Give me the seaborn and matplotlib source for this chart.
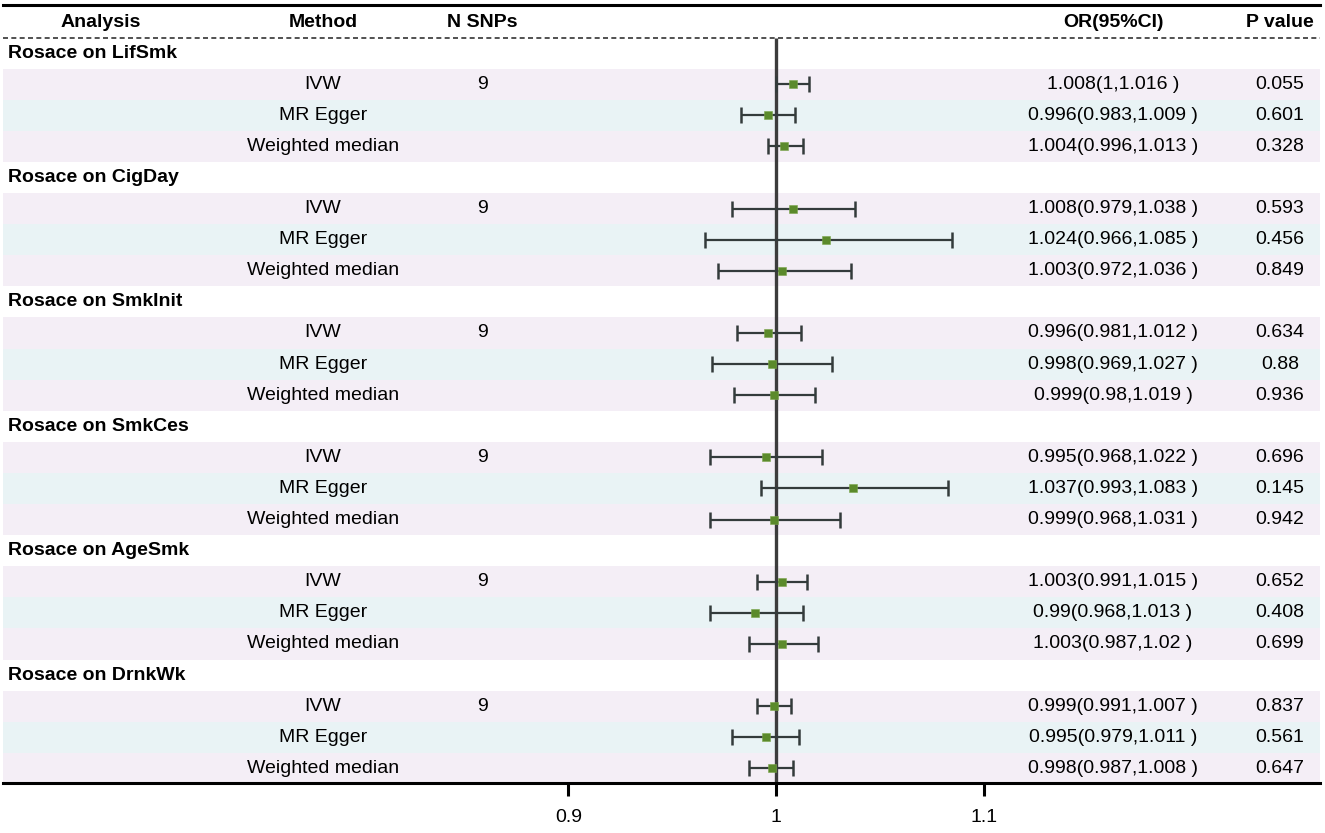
import numpy as np
import pandas as pd
import seaborn as sns
import matplotlib.pyplot as plt
from matplotlib.transforms import blended_transform_factory

sns.set_style("white")
plt.rcParams['font.family'] = ['Liberation Sans', 'DejaVu Sans']
plt.rcParams['font.size'] = 14
plt.rcParams['text.color'] = 'black'
plt.rcParams['xtick.color'] = 'black'

# data
outcomes = ["LifSmk", "CigDay", "SmkInit", "SmkCes", "AgeSmk", "DrnkWk"]
methods = ["IVW", "MR Egger", "Weighted median"]
n_snps = [9, 9, 9, 9, 9, 9]
or_val = [1.008, 0.996, 1.004,
          1.008, 1.024, 1.003,
          0.996, 0.998, 0.999,
          0.995, 1.037, 0.999,
          1.003, 0.99, 1.003,
          0.999, 0.995, 0.998]
ci_low = [1.0, 0.983, 0.996,
          0.979, 0.966, 0.972,
          0.981, 0.969, 0.98,
          0.968, 0.993, 0.968,
          0.991, 0.968, 0.987,
          0.991, 0.979, 0.987]
ci_high = [1.016, 1.009, 1.013,
           1.038, 1.085, 1.036,
           1.012, 1.027, 1.019,
           1.022, 1.083, 1.031,
           1.015, 1.013, 1.02,
           1.007, 1.011, 1.008]
p_val = [0.055, 0.601, 0.328,
         0.593, 0.456, 0.849,
         0.634, 0.88, 0.936,
         0.696, 0.145, 0.942,
         0.652, 0.408, 0.699,
         0.837, 0.561, 0.647]

# table layout: row 0 = header, each outcome = 1 title row + 3 method rows
rows = []
for g, out in enumerate(outcomes):
    for m, meth in enumerate(methods):
        rows.append(dict(outcome=out, method=meth, row=2 + 4 * g + m))
df = pd.DataFrame(rows)
df["OR"] = or_val
df["lo"] = ci_low
df["hi"] = ci_high
df["p"] = p_val

W, H = 1325, 833
fig = plt.figure(figsize=(W / 100, H / 100), dpi=100)
ax = fig.add_axes([3 / W, 50 / H, 1317 / W, 778 / H])

n_rows = 4 * len(outcomes) + 1
y_bottom = n_rows - 1 + 0.47
y_top = -0.547
ax.set_xlim(1 - 773 / 2076, 1 + 544 / 2076)
ax.set_ylim(y_bottom, y_top)

pink = "#F4EEF6"
blue = "#E9F3F5"
band_col = {"IVW": pink, "MR Egger": blue, "Weighted median": pink}
for _, r in df.iterrows():
    ax.axhspan(r["row"] - 0.5, r["row"] + 0.5, color=band_col[r["method"]], lw=0, zorder=0)

# dashed line under header, reference line at OR = 1
ax.axhline(0.5, color="#333333", lw=1.2, ls=(0, (3, 2)), zorder=1)
ax.vlines(1, 0.5, y_bottom, color="#3C3C3C", lw=2.4, zorder=2)

ax.errorbar(df["OR"], df["row"], xerr=[df["OR"] - df["lo"], df["hi"] - df["OR"]],
            fmt="none", ecolor="#333B3B", elinewidth=1.6, capsize=5.5, capthick=1.8, zorder=3)
sns.scatterplot(data=df, x="OR", y="row", marker="s", s=32, color="#5B8A2B",
                edgecolor="#7BA54A", linewidth=0.4, zorder=4, legend=False, ax=ax)

# text columns (x in figure fraction, y in rows)
tr = blended_transform_factory(fig.transFigure, ax.transData)
col_x = {"analysis": 101, "method": 323, "nsnp": 482, "or": 1113, "p": 1280}
hdr = dict(fontweight="bold", fontsize=14, va="center", ha="center", transform=tr)
ax.text(col_x["analysis"] / W, 0, "Analysis", **hdr)
ax.text(col_x["method"] / W, 0, "Method", **hdr)
ax.text(col_x["nsnp"] / W, 0, "N SNPs", **hdr)
ax.text(col_x["or"] / W, 0, "OR(95%CI)", **hdr)
ax.text(col_x["p"] / W, 0, "P value", **hdr)

body = dict(fontsize=14, va="center", ha="center", transform=tr)
for g, out in enumerate(outcomes):
    ax.text(8 / W, 1 + 4 * g, f"Rosace on {out}", fontweight="bold", fontsize=14,
            va="center", ha="left", transform=tr)
    ax.text(col_x["nsnp"] / W, 2 + 4 * g, str(n_snps[g]), **body)
for _, r in df.iterrows():
    ax.text(col_x["method"] / W, r["row"], r["method"], **body)
    ax.text(col_x["or"] / W, r["row"], f"{r['OR']:g}({r['lo']:g},{r['hi']:g} )", **body)
    ax.text(col_x["p"] / W, r["row"], f"{r['p']:g}", **body)

ax.set_xlabel("")
ax.set_ylabel("")
ax.set_yticks([])
ax.set_xticks([0.9, 1, 1.1])
ax.set_xticklabels(["0.9", "1", "1.1"])
ax.tick_params(axis="x", bottom=True, direction="out", length=9, width=2.2,
               labelsize=14, pad=10, color="black", labelcolor="black")
for s in ["left", "right"]:
    ax.spines[s].set_visible(False)
for s in ["top", "bottom"]:
    ax.spines[s].set_linewidth(2.2)
    ax.spines[s].set_color("black")

fig.savefig("out.png", dpi=100)
